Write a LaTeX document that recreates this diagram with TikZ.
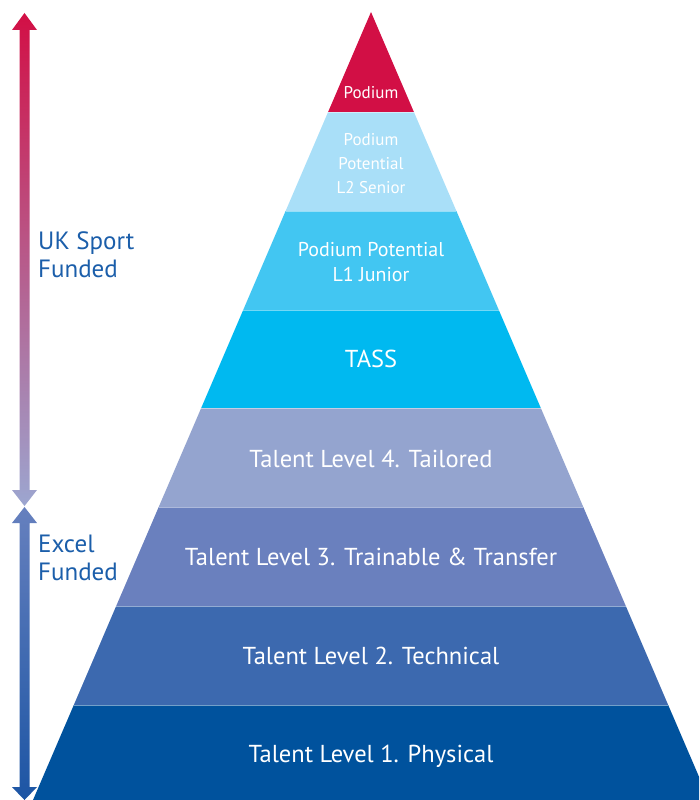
\documentclass[tikz,border=0pt]{standalone}
\usepackage{fontspec}
\setmainfont{PT Sans}
\usetikzlibrary{positioning}
\definecolor{podium}{HTML}{D20F45}
\definecolor{senior}{HTML}{A9DFF8}
\definecolor{junior}{HTML}{42C6F2}
\definecolor{tass}{HTML}{00B9F0}
\definecolor{tlfour}{HTML}{94A4CF}
\definecolor{tlthree}{HTML}{6A80BE}
\definecolor{tltwo}{HTML}{3C69AF}
\definecolor{tlone}{HTML}{00529D}
\definecolor{ukend}{HTML}{9CA6D0}
\definecolor{exceltop}{HTML}{6680BE}
\definecolor{excelend}{HTML}{1C55A4}
\definecolor{sidetext}{HTML}{1B5EAA}
\tikzset{
  sep/.style={white,opacity=0.45,line width=0.8pt},
  lbl/.style={text=white,align=center,inner sep=0pt,font=\fontsize{24.5}{28}\selectfont},
  small/.style={lbl,font=\fontsize{17}{24}\selectfont},
  mid/.style={lbl,font=\fontsize{20}{25}\selectfont},
  side/.style={text=sidetext,align=left,inner sep=0pt,font=\fontsize{25}{28}\selectfont}
}
\begin{document}
\begin{tikzpicture}[x=1pt,y=-1pt]
\useasboundingbox (0,0) rectangle (699,800);
\clip (0,0) rectangle (699,800);
%Pyramid
\fill[podium] (371,12) -- (413.9,112) -- (328.1,112) -- cycle;
\fill[senior] (328.1,112) -- (413.9,112) -- (456.4,211) -- (285.6,211) -- cycle;
\fill[junior] (285.6,211) -- (456.4,211) -- (498.8,310) -- (243.2,310) -- cycle;
\fill[tass] (243.2,310) -- (498.8,310) -- (540.8,408) -- (201.2,408) -- cycle;
\fill[tlfour] (201.2,408) -- (540.8,408) -- (583.3,507) -- (158.7,507) -- cycle;
\fill[tlthree] (158.7,507) -- (583.3,507) -- (625.8,606) -- (116.2,606) -- cycle;
\fill[tltwo] (116.2,606) -- (625.8,606) -- (668.2,705) -- (73.8,705) -- cycle;
\fill[tlone] (73.8,705) -- (668.2,705) -- (709,800) -- (33,800) -- cycle;
%Separators
\draw[sep] (328.1,112) -- (413.9,112);
\draw[sep] (285.6,211) -- (456.4,211);
\draw[sep] (243.2,310) -- (498.8,310);
\draw[sep] (201.2,408) -- (540.8,408);
\draw[sep] (158.7,507) -- (583.3,507);
\draw[sep] (116.2,606) -- (625.8,606);
\draw[sep] (73.8,705) -- (668.2,705);
%Arrows
\shade[top color=podium,bottom color=ukend] (24.5,13) -- (37,30) -- (29.5,30) -- (29.5,490) -- (37,490) -- (24.5,506) -- (12,490) -- (19.5,490) -- (19.5,30) -- (12,30) -- cycle;
\shade[top color=exceltop,bottom color=excelend] (24.5,507) -- (37,523) -- (29.5,523) -- (29.5,787) -- (37,787) -- (24.5,800) -- (12,787) -- (19.5,787) -- (19.5,523) -- (12,523) -- cycle;
%Text
\node[small,anchor=base] (podiumlbl) at (371,98) {Podium};
\node[small] (seniorlbl) at (371,164) {Podium\\Potential\\L2 Senior};
\node[mid] (juniorlbl) at (371,262) {Podium Potential\\L1 Junior};
\node[lbl,anchor=base] (tasslbl) at (371,367) {TASS};
\node[lbl,anchor=base] (tlfourlbl) at (371,467) {Talent Level 4. Tailored};
\node[lbl,anchor=base] (tlthreelbl) at (371,565) {Talent Level 3. Trainable \& Transfer};
\node[lbl,anchor=base] (tltwolbl) at (371,664) {Talent Level 2. Technical};
\node[lbl,anchor=base] (tlonelbl) at (371,762) {Talent Level 1. Physical};
\node[side,anchor=north west] (uklbl) at (38,231) {UK Sport\\Funded};
\node[side,anchor=north west] (excellbl) at (38,535) {Excel\\Funded};
\end{tikzpicture}
\end{document}
